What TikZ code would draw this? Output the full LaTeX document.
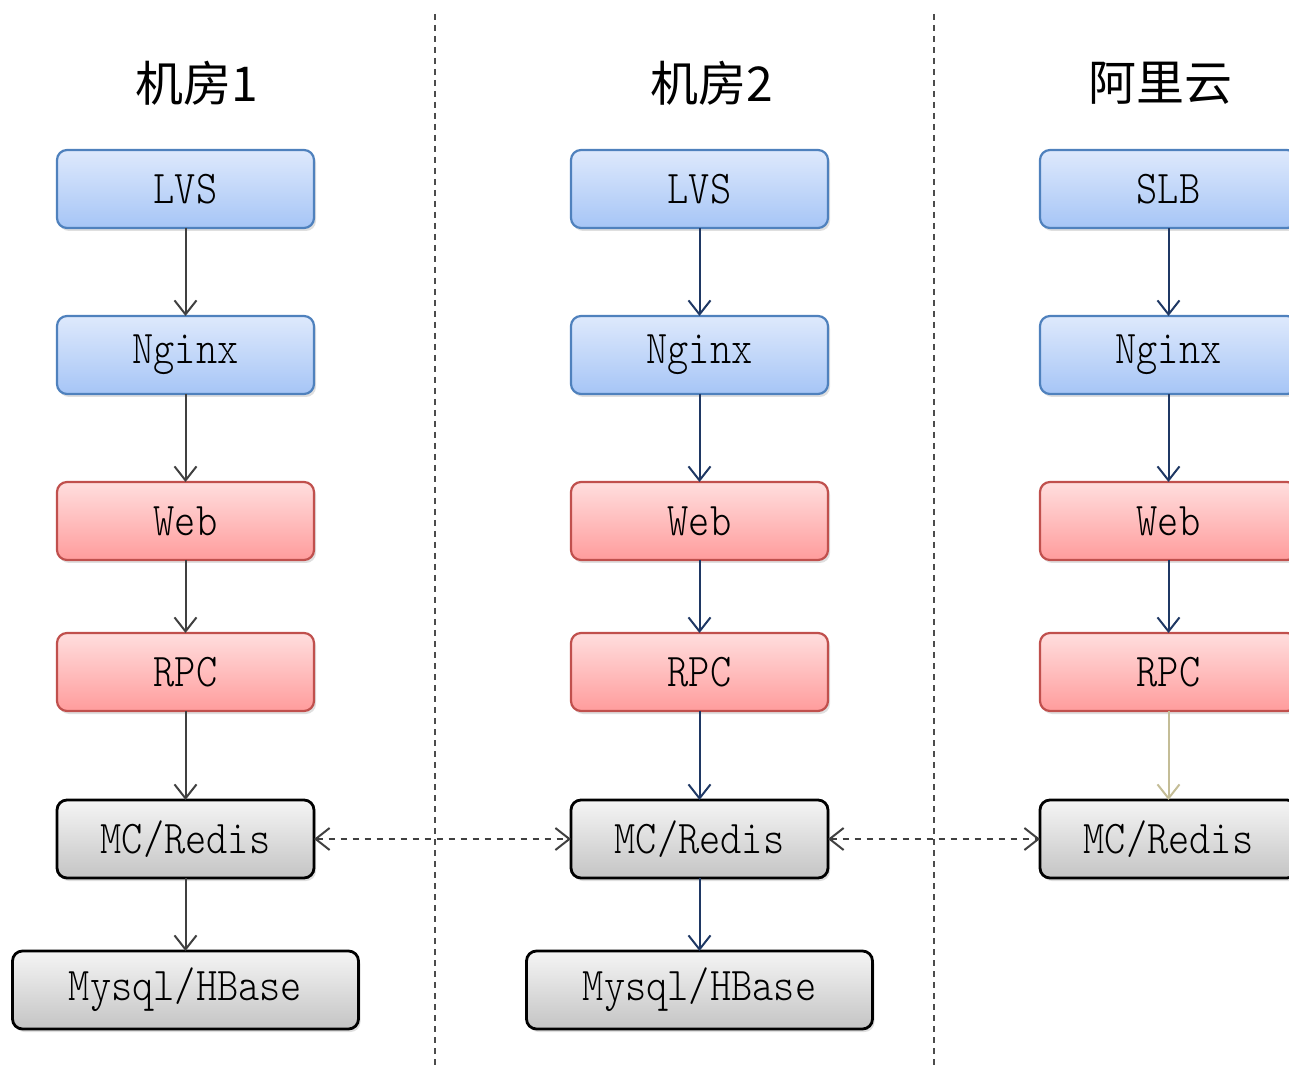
\documentclass[tikz,border=0pt]{standalone}
\usepackage{fontspec}
\newfontfamily\cjk{Noto Sans CJK SC}
\newfontfamily\boxfont{Latin Modern Mono Light}[FakeStretch=0.86]
\usetikzlibrary{arrows.meta,positioning,shadows}
\definecolor{blueline}{HTML}{4F81BD}
\definecolor{bluetop}{HTML}{DEE9FC}
\definecolor{bluebot}{HTML}{A6C5F6}
\definecolor{redline}{HTML}{C0504D}
\definecolor{redtop}{HTML}{FFDEDE}
\definecolor{redbot}{HTML}{FF9C9C}
\definecolor{graytop}{HTML}{F5F5F5}
\definecolor{graybot}{HTML}{C4C4C4}
\definecolor{arrgray}{HTML}{404040}
\definecolor{arrnavy}{HTML}{1F3864}
\definecolor{arrtan}{HTML}{C4BD97}
\tikzset{
  srv/.style  = {rounded corners=5pt, minimum width=128.5pt, minimum height=39pt,
                 inner sep=2pt, outer sep=0pt, font=\boxfont\fontsize{23.5}{26}\selectfont,
                 drop shadow={shadow xshift=1pt, shadow yshift=-1.5pt, opacity=0.25}},
  lb/.style   = {srv, draw=blueline, line width=1.1pt, top color=bluetop, bottom color=bluebot},
  app/.style  = {srv, draw=redline, line width=1.1pt, top color=redtop, bottom color=redbot},
  st/.style   = {srv, draw=black, line width=1.4pt, top color=graytop, bottom color=graybot},
  ar/.style   = {-{Straight Barb[length=7pt,width=11pt]}, line width=1pt},
  sync/.style = {{Straight Barb[length=7pt,width=11pt]}-{Straight Barb[length=7pt,width=11pt]},
                 dashed, line width=1pt, draw=arrgray},
  hdr/.style  = {font=\cjk\fontsize{24}{28}\selectfont},
  sep/.style  = {draw=black!70, line width=0.8pt, dash pattern=on 3pt off 2.5pt},
}
\begin{document}
\begin{tikzpicture}[x=0.5pt, y=-0.5pt]
  \useasboundingbox (0,0) rectangle (1289,1068);
  % room separators
  \draw[sep] (435,14) -- (435,1068);
  \draw[sep] (934,14) -- (934,1068);
  % headers
  \node[hdr] (h1) at (197,83) {机房1};
  \node[hdr] (h2) at (712,83) {机房2};
  \node[hdr] (h3) at (1160,83) {阿里云};
  % one stack per room
  \foreach \i/\x/\lbname/\ca/\cb in {1/185.5/LVS/arrgray/arrgray,
                                   2/699.5/LVS/arrnavy/arrnavy,
                                   3/1168.5/SLB/arrnavy/arrtan} {
    \node[lb] (lb\i) at (\x,189) {\lbname};
    \node[lb, below=44pt of lb\i] (ngx\i) {Nginx};
    \node[app, below=44pt of ngx\i] (web\i) {Web};
    \node[app, below=36.5pt of web\i] (rpc\i) {RPC};
    \node[st, below=44.5pt of rpc\i] (mc\i) {MC/Redis};
    \draw[ar, \ca] (lb\i) -- (ngx\i);
    \draw[ar, \ca] (ngx\i) -- (web\i);
    \draw[ar, \ca] (web\i) -- (rpc\i);
    \draw[ar, \cb] (rpc\i) -- (mc\i);
  }
  \node[st, minimum width=173pt, below=36.5pt of mc1] (db1) {Mysql/HBase};
  \node[st, minimum width=173pt, below=36.5pt of mc2] (db2) {Mysql/HBase};
  \draw[ar, arrgray] (mc1) -- (db1);
  \draw[ar, arrnavy] (mc2) -- (db2);
  % cache sync
  \draw[sync] (mc1) -- (mc2);
  \draw[sync] (mc2) -- (mc3);
\end{tikzpicture}
\end{document}
